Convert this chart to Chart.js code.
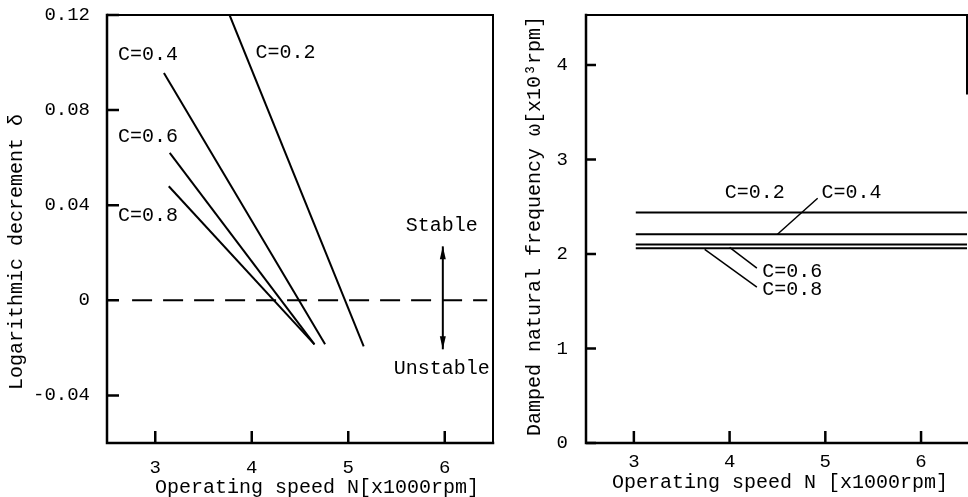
<!DOCTYPE html>
<html>
<head>
<meta charset="utf-8">
<script src="https://cdn.jsdelivr.net/npm/chart.js@4.4.1/dist/chart.umd.min.js"></script>
<style>
  html, body { margin: 0; padding: 0; background: #fff; }
  #wrap { position: relative; width: 968px; height: 497px; overflow: hidden; }
  #decChart { position: absolute; left: 0; top: 0; }
  #freqChart { position: absolute; left: 500px; top: 0; }
</style>
</head>
<body>
<div id="wrap">
  <canvas id="decChart" width="500" height="497"></canvas>
  <canvas id="freqChart" width="468" height="497"></canvas>
</div>
<script>
// ticks
const speedTicks = [3, 4, 5, 6];
const decrementTicks = [-0.04, 0, 0.04, 0.08, 0.12];
const frequencyTicks = [0, 1, 2, 3, 4];
const dampingLabels = ['C=0.2', 'C=0.4', 'C=0.6', 'C=0.8'];

// logarithmic decrement (start / end of each straight line)
const decSpeedC02 = [3.77, 5.16];
const decValueC02 = [0.120, -0.0194];
const decSpeedC04 = [3.09, 4.76];
const decValueC04 = [0.0956, -0.0185];
const decSpeedC06 = [3.15, 4.65];
const decValueC06 = [0.062, -0.0185];
const decSpeedC08 = [3.14, 4.65];
const decValueC08 = [0.048, -0.0185];
const limitSpeed = [2.76, 6.44];   // dashed line delta = 0
const limitValue = [0, 0];

// damped natural frequency [x10^3 rpm]
const freqSpeed = [3.02, 6.48];
const freqC02 = [2.44, 2.44];
const freqC04 = [2.21, 2.21];
const freqC06 = [2.10, 2.10];
const freqC08 = [2.06, 2.06];

const FONT = '"Liberation Mono", "Courier New", monospace';
Chart.defaults.font.family = FONT;
Chart.defaults.color = '#000';

function pts(xs, ys) {
  return xs.map((x, i) => ({x: x, y: ys[i]}));
}

function lineSet(label, data, dash) {
  return {
    label: label,
    data: data,
    showLine: true,
    borderColor: '#000',
    borderWidth: 2,
    borderDash: dash || [],
    pointRadius: 0,
    tension: 0
  };
}

// frame round the plot area
const frame = {
  id: 'frame',
  afterDraw(chart, args, opts) {
    const {ctx, chartArea: a} = chart;
    ctx.save();
    ctx.strokeStyle = '#000';
    ctx.lineCap = 'square';
    ctx.lineWidth = 2.5;
    ctx.beginPath();
    ctx.moveTo(a.left, a.top); ctx.lineTo(a.left, a.bottom);
    ctx.moveTo(a.left, a.bottom); ctx.lineTo(a.right, a.bottom);
    ctx.stroke();
    ctx.lineWidth = 2;
    ctx.beginPath();
    ctx.moveTo(a.left, a.top); ctx.lineTo(a.right, a.top);
    var rightEnd = opts.rightTo != null ? chart.scales.y.getPixelForValue(opts.rightTo) : a.bottom;
    ctx.moveTo(a.right, a.top); ctx.lineTo(a.right, rightEnd);
    ctx.stroke();
    ctx.restore();
  }
};

// tick marks pointing into the plot
const innerTicks = {
  id: 'innerTicks',
  afterDraw(chart, args, opts) {
    const {ctx, chartArea: a, scales} = chart;
    ctx.save();
    ctx.strokeStyle = '#000';
    ctx.lineWidth = 2.5;
    ctx.beginPath();
    scales.x.ticks.forEach(t => {
      var px = scales.x.getPixelForValue(t.value);
      ctx.moveTo(px, a.bottom);
      ctx.lineTo(px, a.bottom - opts.xLength);
    });
    scales.y.ticks.forEach(t => {
      var py = scales.y.getPixelForValue(t.value);
      ctx.moveTo(a.left, py);
      ctx.lineTo(a.left + opts.yLength, py);
    });
    ctx.stroke();
    ctx.restore();
  }
};

// labels, leader lines, arrows, axis titles
const notes = {
  id: 'notes',
  afterDraw(chart, args, opts) {
    const {ctx, scales} = chart;
    const X = v => scales.x.getPixelForValue(v);
    const Y = v => scales.y.getPixelForValue(v);
    ctx.save();
    ctx.fillStyle = '#000';
    ctx.strokeStyle = '#000';
    ctx.font = '20px ' + FONT;
    ctx.textBaseline = 'middle';
    (opts.texts || []).forEach(t => {
      ctx.textAlign = t.align || 'left';
      ctx.fillText(t.text, X(t.x), Y(t.y));
    });
    ctx.lineWidth = 1.5;
    (opts.leaders || []).forEach(l => {
      ctx.beginPath();
      ctx.moveTo(X(l.from[0]), Y(l.from[1]));
      ctx.lineTo(X(l.to[0]), Y(l.to[1]));
      ctx.stroke();
    });
    (opts.arrows || []).forEach(ar => {
      var x = X(ar.x), y0 = Y(ar.y0), y1 = Y(ar.y1);
      ctx.lineWidth = 2;
      ctx.beginPath();
      ctx.moveTo(x, y0); ctx.lineTo(x, y1);
      ctx.stroke();
      [[y0, 1], [y1, -1]].forEach(([yy, dir]) => {
        ctx.beginPath();
        ctx.moveTo(x, yy);
        ctx.lineTo(x - 3, yy + dir * 13);
        ctx.lineTo(x + 3, yy + dir * 13);
        ctx.closePath();
        ctx.fill();
      });
    });
    (opts.titles || []).forEach(t => {
      ctx.save();
      ctx.translate(t.px, t.py);
      if (t.vertical) ctx.rotate(-Math.PI / 2);
      ctx.textAlign = 'center';
      ctx.fillText(t.text, 0, 0);
      ctx.restore();
    });
    ctx.restore();
  }
};

function axis(min, max, tickValues, size, padding, fmt, isX) {
  return {
    type: 'linear',
    min: min,
    max: max,
    afterBuildTicks: s => { s.ticks = tickValues.map(v => ({value: v})); },
    afterFit: s => {
      if (isX) {
        s.height = size;
        s.paddingLeft = 0; s.paddingRight = 0;
      } else {
        s.width = size;
        s.paddingTop = 0; s.paddingBottom = 0;
      }
    },
    grid: {display: false, drawTicks: false},
    border: {display: false},
    ticks: {
      padding: padding,
      color: '#000',
      font: {size: 19, family: FONT},
      callback: fmt
    }
  };
}

new Chart(document.getElementById('decChart'), {
  type: 'scatter',
  data: {
    datasets: [
      lineSet(dampingLabels[0], pts(decSpeedC02, decValueC02)),
      lineSet(dampingLabels[1], pts(decSpeedC04, decValueC04)),
      lineSet(dampingLabels[2], pts(decSpeedC06, decValueC06)),
      lineSet(dampingLabels[3], pts(decSpeedC08, decValueC08)),
      lineSet('delta=0', pts(limitSpeed, limitValue), [20, 11])
    ]
  },
  options: {
    responsive: false,
    animation: false,
    layout: {padding: {left: 0, top: 15, right: 7, bottom: 0}},
    plugins: {
      legend: {display: false},
      tooltip: {enabled: false},
      frame: {},
      innerTicks: {xLength: 12, yLength: 12},
      notes: {
        texts: [
          {text: dampingLabels[1], x: 2.615, y: 0.1032},
          {text: dampingLabels[0], x: 4.04, y: 0.104},
          {text: dampingLabels[2], x: 2.615, y: 0.069},
          {text: dampingLabels[3], x: 2.615, y: 0.0358},
          {text: 'Stable', x: 5.97, y: 0.0312, align: 'center'},
          {text: 'Unstable', x: 5.97, y: -0.0286, align: 'center'}
        ],
        arrows: [{x: 5.98, y0: 0.0227, y1: -0.0206}],
        titles: [
          {text: 'Logarithmic decrement δ', px: 17, py: 252, vertical: true},
          {text: 'Operating speed N[x1000rpm]', px: 317, py: 488}
        ]
      }
    },
    scales: {
      x: axis(2.5, 6.5, speedTicks, 54, 14, v => String(v), true),
      y: axis(-0.06, 0.12, decrementTicks, 107, 17, v => v === 0 ? '0' : v.toFixed(2), false)
    }
  },
  plugins: [frame, innerTicks, notes]
});

new Chart(document.getElementById('freqChart'), {
  type: 'scatter',
  data: {
    datasets: [
      lineSet(dampingLabels[0], pts(freqSpeed, freqC02)),
      lineSet(dampingLabels[1], pts(freqSpeed, freqC04)),
      lineSet(dampingLabels[2], pts(freqSpeed, freqC06)),
      lineSet(dampingLabels[3], pts(freqSpeed, freqC08))
    ]
  },
  options: {
    responsive: false,
    animation: false,
    layout: {padding: {left: 0, top: 15, right: 1, bottom: 0}},
    plugins: {
      legend: {display: false},
      tooltip: {enabled: false},
      frame: {rightTo: 3.7},
      innerTicks: {xLength: 12, yLength: 10},
      notes: {
        texts: [
          {text: dampingLabels[0], x: 3.95, y: 2.646},
          {text: dampingLabels[1], x: 4.96, y: 2.646},
          {text: dampingLabels[2], x: 4.34, y: 1.81},
          {text: dampingLabels[3], x: 4.34, y: 1.62}
        ],
        leaders: [
          {from: [4.50, 2.21], to: [4.92, 2.59]},
          {from: [4.00, 2.07], to: [4.285, 1.85]},
          {from: [3.74, 2.05], to: [4.285, 1.65]}
        ],
        titles: [
          {text: 'Damped natural frequency ω[x10³rpm]', px: 35, py: 226, vertical: true},
          {text: 'Operating speed N [x1000rpm]', px: 280, py: 483}
        ]
      }
    },
    scales: {
      x: axis(2.5, 6.48, speedTicks, 54, 8, v => String(v), true),
      y: axis(0, 4.53, frequencyTicks, 86, 18, v => String(v), false)
    }
  },
  plugins: [frame, innerTicks, notes]
});
</script>
</body>
</html>
